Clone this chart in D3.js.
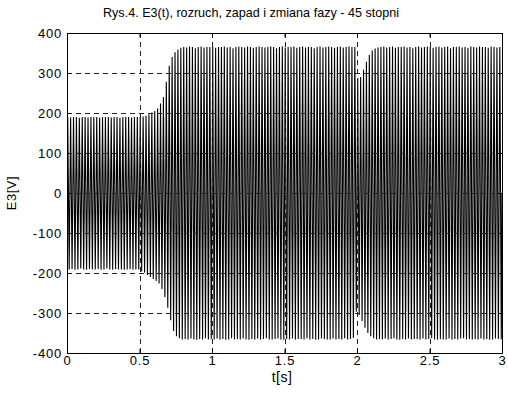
<!DOCTYPE html>
<html>
<head>
<meta charset="utf-8">
<script src="https://cdn.jsdelivr.net/npm/d3@7"></script>
<style>
  html, body { margin: 0; padding: 0; background: #fff; }
  text { font-family: "Liberation Sans", Arial, sans-serif; fill: #000; }
</style>
</head>
<body>
<div id="wrapper"></div>
<script>
// signal: 50 Hz, one positive and one negative peak per cycle
const freqHz = 50
const tMax = 3

const upperPeaks = [
  190,189,190,190,188,190,190,189,190,190,
  190,188,190,190,190,189,190,190,188,190,
  190,190,189,190,190,190,191,193,197,201,
  205,211,224,240,278,318,340,352,359,363,
  365,364,366,365,362,365,366,364,365,365,
  366,363,365,365,366,364,365,362,365,366,
  365,364,366,365,363,365,366,365,364,365,
  366,365,362,365,366,364,365,365,366,363,
  365,366,364,365,365,362,365,366,364,365,
  366,365,363,365,366,364,365,366,365,365,
  287,290,308,328,345,356,361,364,365,366,
  364,365,366,363,365,365,366,364,365,362,
  365,366,364,365,366,365,363,365,366,364,
  365,366,362,365,365,366,364,365,363,366,
  365,364,366,365,365,363,366,365,364,365
]

const lowerPeaks = [
  -191,-190,-192,-191,-189,-191,-192,-190,-191,-191,
  -190,-192,-191,-189,-191,-192,-190,-191,-191,-192,
  -191,-190,-192,-191,-191,-196,-199,-205,-210,-215,
  -220,-226,-240,-260,-287,-318,-345,-358,-363,-366,
  -365,-366,-364,-366,-367,-365,-366,-363,-366,-365,
  -366,-364,-366,-365,-367,-366,-363,-366,-365,-366,
  -364,-366,-367,-365,-366,-364,-366,-365,-363,-366,
  -366,-365,-364,-366,-367,-365,-366,-364,-366,-365,
  -365,-366,-363,-366,-365,-367,-366,-364,-365,-366,
  -366,-364,-366,-365,-366,-363,-366,-365,-362,-297,
  -305,-320,-337,-350,-358,-363,-366,-365,-366,-364,
  -366,-365,-363,-366,-367,-365,-366,-364,-366,-365,
  -365,-366,-364,-366,-365,-363,-366,-367,-365,-366,
  -366,-364,-366,-365,-366,-364,-363,-366,-365,-366,
  -365,-366,-364,-366,-365,-367,-366,-364,-365,-366
]

const xTicks = [0, 0.5, 1, 1.5, 2, 2.5, 3]
const yTicks = [-400, -300, -200, -100, 0, 100, 200, 300, 400]

const titleText = "Rys.4. E3(t), rozruch, zapad i zmiana fazy - 45 stopni"
const xLabelText = "t[s]"
const yLabelText = "E3[V]"

// build the polyline: zigzag through the peaks
const period = 1 / freqHz
const samples = [{ t: 0, v: 0 }]
upperPeaks.forEach((hi, k) => {
  samples.push({ t: (k + 0.25) * period, v: hi })
  samples.push({ t: (k + 0.75) * period, v: lowerPeaks[k] })
})
samples.push({ t: tMax, v: 0 })

const dimensions = {
  width: 508,
  height: 402,
  margin: { top: 33, right: 6, bottom: 49, left: 67 }
}
dimensions.boundedWidth = dimensions.width - dimensions.margin.left - dimensions.margin.right
dimensions.boundedHeight = dimensions.height - dimensions.margin.top - dimensions.margin.bottom

const svg = d3.select("#wrapper")
  .append("svg")
    .attr("width", dimensions.width)
    .attr("height", dimensions.height)

const bounds = svg.append("g")
    .attr("transform", `translate(${dimensions.margin.left},${dimensions.margin.top})`)

const xScale = d3.scaleLinear()
  .domain([0, tMax])
  .range([0, dimensions.boundedWidth])

const yScale = d3.scaleLinear()
  .domain([-400, 400])
  .range([dimensions.boundedHeight, 0])

svg.append("defs").append("clipPath")
    .attr("id", "plotClip")
  .append("rect")
    .attr("width", dimensions.boundedWidth)
    .attr("height", dimensions.boundedHeight)

// data
const lineGen = d3.line()
  .x(d => xScale(d.t))
  .y(d => yScale(d.v))

bounds.append("path")
    .datum(samples)
    .attr("clip-path", "url(#plotClip)")
    .attr("d", lineGen)
    .attr("fill", "none")
    .attr("stroke", "#000")
    .attr("stroke-width", 1.1)

// dashed grid
const grid = bounds.append("g")
    .attr("stroke", "#222")
    .attr("stroke-width", 1)
    .attr("stroke-dasharray", "5,4")
    .attr("shape-rendering", "crispEdges")

grid.selectAll(".gx")
  .data(xTicks.slice(1, -1))
  .join("line")
    .attr("x1", d => Math.round(xScale(d)) + 0.5)
    .attr("x2", d => Math.round(xScale(d)) + 0.5)
    .attr("y1", 0)
    .attr("y2", dimensions.boundedHeight)

grid.selectAll(".gy")
  .data(yTicks.slice(1, -1))
  .join("line")
    .attr("y1", d => Math.round(yScale(d)) + 0.5)
    .attr("y2", d => Math.round(yScale(d)) + 0.5)
    .attr("x1", 0)
    .attr("x2", dimensions.boundedWidth)

// axes (ticks inside, MATLAB style box)
const fmt = d => String(d)
const tickLen = 4

const xAxisBottom = bounds.append("g")
    .attr("transform", `translate(0,${dimensions.boundedHeight})`)
    .call(d3.axisBottom(xScale).tickValues(xTicks).tickFormat(fmt).tickSizeInner(-tickLen).tickSizeOuter(0).tickPadding(3))
const xAxisTop = bounds.append("g")
    .call(d3.axisTop(xScale).tickValues(xTicks).tickFormat("").tickSizeInner(-tickLen).tickSizeOuter(0))
const yAxisLeft = bounds.append("g")
    .call(d3.axisLeft(yScale).tickValues(yTicks).tickFormat(fmt).tickSizeInner(-tickLen).tickSizeOuter(0).tickPadding(5))
const yAxisRight = bounds.append("g")
    .attr("transform", `translate(${dimensions.boundedWidth},0)`)
    .call(d3.axisRight(yScale).tickValues(yTicks).tickFormat("").tickSizeInner(-tickLen).tickSizeOuter(0))

bounds.selectAll(".domain, .tick line")
    .attr("stroke", "#000")
    .attr("stroke-width", 1)

bounds.selectAll(".tick text")
    .attr("fill", "#000")
    .style("font-size", "13px")
    .style("letter-spacing", "0.8px")
    .style("font-family", "'Liberation Sans', Arial, sans-serif")

// peripherals
svg.append("text")
    .attr("x", 251)
    .attr("y", 17)
    .attr("text-anchor", "middle")
    .style("font-size", "12.6px")
    .text(titleText)

svg.append("text")
    .attr("x", 282)
    .attr("y", 382)
    .attr("text-anchor", "middle")
    .style("font-size", "14px")
    .style("letter-spacing", "0.5px")
    .text(xLabelText)

svg.append("text")
    .attr("transform", `translate(16,${dimensions.margin.top + dimensions.boundedHeight / 2}) rotate(-90)`)
    .attr("text-anchor", "middle")
    .style("font-size", "13px")
    .style("letter-spacing", "0.5px")
    .text(yLabelText)
</script>
</body>
</html>
